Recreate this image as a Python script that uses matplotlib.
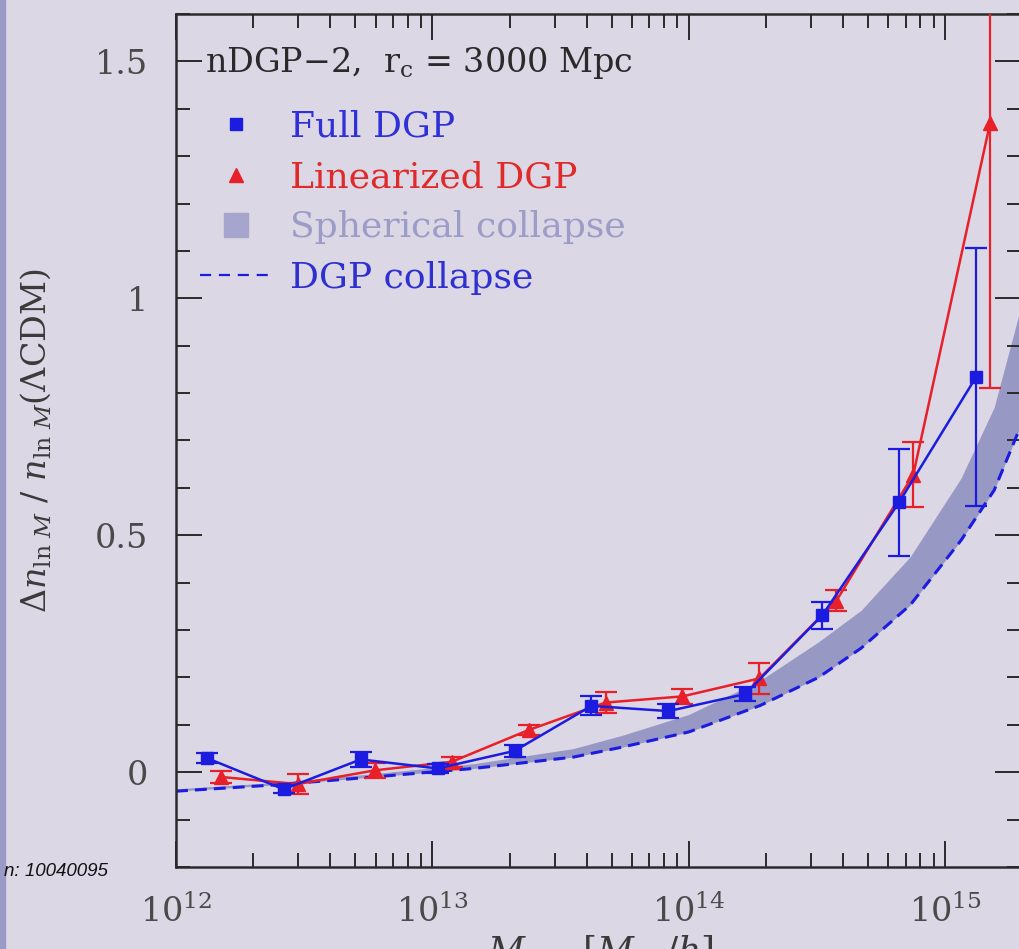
import matplotlib
matplotlib.use("Agg")
import matplotlib.pyplot as plt
from matplotlib.lines import Line2D

plt.rcParams['font.family'] = ['DejaVu Serif']
plt.rcParams['mathtext.fontset'] = 'dejavuserif'

# ---------------- data ----------------
full_M = [1.318e12, 2.63e12, 5.25e12, 1.047e13, 2.09e13, 4.17e13, 8.32e13,
          1.66e14, 3.31e14, 6.61e14, 1.318e15]
full_y = [0.030, -0.036, 0.027, 0.008, 0.045, 0.140, 0.129, 0.165, 0.331, 0.570, 0.834]
full_err = [0.011, 0.008, 0.016, 0.010, 0.012, 0.020, 0.015, 0.015, 0.029, 0.113, 0.273]

lin_M = [1.496e12, 2.985e12, 5.96e12, 1.189e13, 2.37e13, 4.73e13, 9.44e13,
         1.884e14, 3.76e14, 7.50e14, 1.496e15]
lin_y = [-0.010, -0.025, 0.004, 0.022, 0.089, 0.147, 0.160, 0.198, 0.362, 0.628, 1.371]
lin_err = [0.012, 0.022, 0.016, 0.010, 0.010, 0.022, 0.016, 0.032, 0.022, 0.068, 0.560]

curve_M = [1.0e12, 2.4e12, 5.9e12, 1.45e13, 3.55e13, 5.5e13, 1.0e14, 1.9e14,
           3.2e14, 4.7e14, 7.3e14, 1.15e15, 1.55e15, 2.0e15]
dgp_collapse = [-0.040, -0.027, -0.010, 0.008, 0.032, 0.053, 0.085, 0.141,
                0.200, 0.262, 0.353, 0.489, 0.595, 0.740]
spherical_hi = [-0.035, -0.022, -0.003, 0.018, 0.050, 0.078, 0.122, 0.194,
                0.275, 0.342, 0.455, 0.620, 0.770, 0.995]

xticks = [1e12, 1e13, 1e14, 1e15]
yticks = [0, 0.5, 1, 1.5]
ytick_labels = ['0', '0.5', '1', '1.5']

# ---------------- styling ----------------
BG = '#dcd7e4'
BLUE = '#1c1ce0'
RED = '#e8202a'
BAND = '#9898c4'
INK = '#2a2a2a'

W, H = 1019, 949
fig = plt.figure(figsize=(W / 100, H / 100), dpi=100, facecolor=BG)
ax = fig.add_axes([176 / W, 82 / H, 845 / W, 853 / H], facecolor=BG)

ax.set_xscale('log')
ax.set_xlim(10 ** 12.023, 10 ** 15.295)
ax.set_ylim(-0.2, 1.6)

ax.fill_between(curve_M, dgp_collapse, spherical_hi, color=BAND, lw=0, zorder=1)
ax.plot(curve_M, dgp_collapse, color=BLUE, lw=2.2, ls=(0, (3.9, 2.3)), zorder=2)

ax.errorbar(lin_M, lin_y, yerr=lin_err, color=RED, lw=1.8, marker='^', ms=10,
            capsize=8, capthick=1.6, elinewidth=1.6, zorder=3)
ax.errorbar(full_M, full_y, yerr=full_err, color=BLUE, lw=1.8, marker='s', ms=9,
            capsize=8, capthick=1.6, elinewidth=1.6, zorder=4)

# ticks
ax.set_xticks(xticks)
ax.set_yticks(yticks)
ax.set_yticklabels(ytick_labels)
ax.yaxis.set_minor_locator(matplotlib.ticker.MultipleLocator(0.1))
ax.tick_params(which='both', direction='in', top=True, right=True, color=INK,
               width=1.4)
ax.tick_params(which='major', length=19, labelsize=24, labelcolor='#4a4a4a', pad=20)
ax.tick_params(which='minor', length=10)
for s in ax.spines.values():
    s.set_linewidth(1.8)
    s.set_color(INK)

ax.set_ylabel(r'$\Delta n_{\ln\,M}\ /\ n_{\ln\,M}(\Lambda{\rm CDM})$', fontsize=24,
              color='#3a3a3a')
ax.yaxis.set_label_coords(-0.145, 0.5)

fig.text(600 / W, (949 - 934) / H, r'$M_{\rm vir}\ \ [M_\odot/h]$', fontsize=26,
         color='#3a3a3a', ha='center', va='top')

# title text
ax.text(0.034, 0.9426, r'nDGP$-$2,  r$_{\rm c}$ = 3000 Mpc', transform=ax.transAxes,
        fontsize=24, color=INK, ha='left', va='center')

# legend
handles = [
    Line2D([], [], color=BLUE, marker='s', ls='none', ms=9),
    Line2D([], [], color=RED, marker='^', ls='none', ms=10),
    Line2D([], [], color='#a5a5cd', marker='s', ls='none', ms=17),
    Line2D([], [], color=BLUE, lw=1.6, ls=(0, (5, 3.5))),
]
labels = ['Full DGP', 'Linearized DGP', 'Spherical collapse', 'DGP collapse']
leg = ax.legend(handles, labels, loc='upper left', bbox_to_anchor=(24 / 845, 0.8875),
                frameon=False, fontsize=26, handlelength=2.0, handletextpad=0.5,
                labelspacing=0.45, borderpad=0, borderaxespad=0,
                labelcolor=['#3030d8', '#e02a2a', '#9c9cc8', '#3030d0'])

# left strip and watermark
fig.patches.append(matplotlib.patches.Rectangle((0, 0), 5 / W, 1, transform=fig.transFigure,
                                                color='#9a9ac6', zorder=0))
fig.text(108 / W, (949 - 872) / H, 'n: 10040095', fontsize=13.5, style='italic',
         family='Liberation Sans', color='#111111', ha='right', va='center')

fig.savefig('out.png', dpi=100, facecolor=BG)
